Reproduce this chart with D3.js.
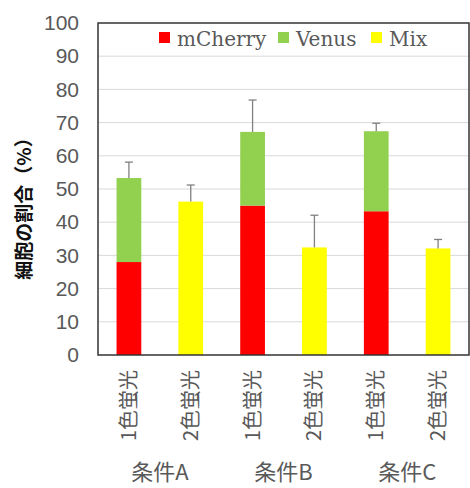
<!DOCTYPE html>
<html><head><meta charset="utf-8">
<script src="https://cdn.jsdelivr.net/npm/d3@7"></script>
<style>body{margin:0;background:#fff}svg{display:block}</style>
</head><body>
<svg id="c" width="470" height="488"></svg>
<script>
const categories = ["1色蛍光","2色蛍光","1色蛍光","2色蛍光","1色蛍光","2色蛍光"];
const groups = ["条件A","条件B","条件C"];
const seriesNames = ["mCherry","Venus","Mix"];
const mCherry = [28, 0, 45, 0, 43.3, 0];
const venus = [25.3, 0, 22.2, 0, 24.1, 0];
const mix = [0, 46.2, 0, 32.4, 0, 32.1];
const errors = [4.8, 5.0, 9.6, 9.7, 2.4, 2.7];
const yTicks = [0,10,20,30,40,50,60,70,80,90,100];
const colors = ["#ff0000","#92d050","#ffff00"];

const svg = d3.select("#c");
const L = 98, R = 469, T = 23, B = 355;
const x = d3.scaleBand().domain(d3.range(categories.length)).range([L, R]).paddingInner(0.6).paddingOuter(0.3);
const y = d3.scaleLinear().domain([0, 100]).range([B, T]);

// gridlines
svg.append("g").selectAll("line").data(yTicks.slice(1, -1)).join("line")
  .attr("x1", L).attr("x2", R).attr("y1", d => y(d)).attr("y2", d => y(d))
  .attr("stroke", "#d9d9d9").attr("stroke-width", 1);

// y tick labels
const yAxis = d3.axisLeft(y).tickValues(yTicks).tickSize(0).tickPadding(0);
const ya = svg.append("g").attr("transform", `translate(79,0)`).call(yAxis);
ya.select(".domain").remove();
ya.selectAll("text").attr("font-family", "Liberation Sans, Arial, sans-serif").attr("font-size", 21).attr("fill", "#595959");

// stacked bars
const rows = categories.map((c, i) => ({i, mCherry: mCherry[i], Venus: venus[i], Mix: mix[i]}));
const stack = d3.stack().keys(seriesNames)(rows);
svg.append("g").selectAll("g").data(stack).join("g").attr("fill", (d, k) => colors[k])
  .selectAll("rect").data(d => d.filter(p => p[1] - p[0] > 0)).join("rect")
  .attr("x", d => x(d.data.i)).attr("width", x.bandwidth())
  .attr("y", d => y(d[1])).attr("height", d => y(d[0]) - y(d[1]));

// error bars
const totals = categories.map((c, i) => mCherry[i] + venus[i] + mix[i]);
const eg = svg.append("g").attr("stroke", "#808080").attr("stroke-width", 1.3);
categories.forEach((c, i) => {
  const cx = x(i) + x.bandwidth() / 2;
  eg.append("line").attr("x1", cx).attr("x2", cx).attr("y1", y(totals[i])).attr("y2", y(totals[i] + errors[i]));
  eg.append("line").attr("x1", cx - 4).attr("x2", cx + 4).attr("y1", y(totals[i] + errors[i])).attr("y2", y(totals[i] + errors[i]));
});

// frame
svg.append("rect").attr("x", L).attr("y", T).attr("width", R - L).attr("height", B - T)
  .attr("fill", "none").attr("stroke", "#333").attr("stroke-width", 1.5);

// x category labels
categories.forEach((c, i) => {
  const cx = x(i) + x.bandwidth() / 2;
  svg.append("text").attr("transform", `translate(${cx + 7},370) rotate(-90)`)
    .attr("text-anchor", "end").attr("font-family", "Noto Sans CJK JP, sans-serif")
    .attr("font-size", 20).attr("fill", "#595959").text(c);
});

// group labels
groups.forEach((g, k) => {
  const cx = (x(2 * k) + x(2 * k + 1) + x.bandwidth()) / 2;
  svg.append("text").attr("x", cx).attr("y", 480).attr("text-anchor", "middle")
    .attr("font-family", "Noto Sans CJK JP, sans-serif").attr("font-size", 22).attr("fill", "#595959").text(g);
});

// y title
svg.append("text").attr("transform", `translate(31,204) rotate(-90)`).attr("text-anchor", "middle")
  .attr("font-family", "Noto Sans CJK JP, sans-serif").attr("font-size", 19).attr("font-weight", "bold")
  .attr("fill", "#111").text("細胞の割合（%）");

// legend
const legX = [159, 278, 371];
seriesNames.forEach((s, k) => {
  svg.append("rect").attr("x", legX[k]).attr("y", 32).attr("width", 11).attr("height", 11).attr("fill", colors[k]);
  svg.append("text").attr("x", legX[k] + 18).attr("y", 46).attr("font-family", "DejaVu Serif, serif")
    .attr("font-size", 20).attr("fill", "#595959").text(s);
});
</script>
</body></html>
